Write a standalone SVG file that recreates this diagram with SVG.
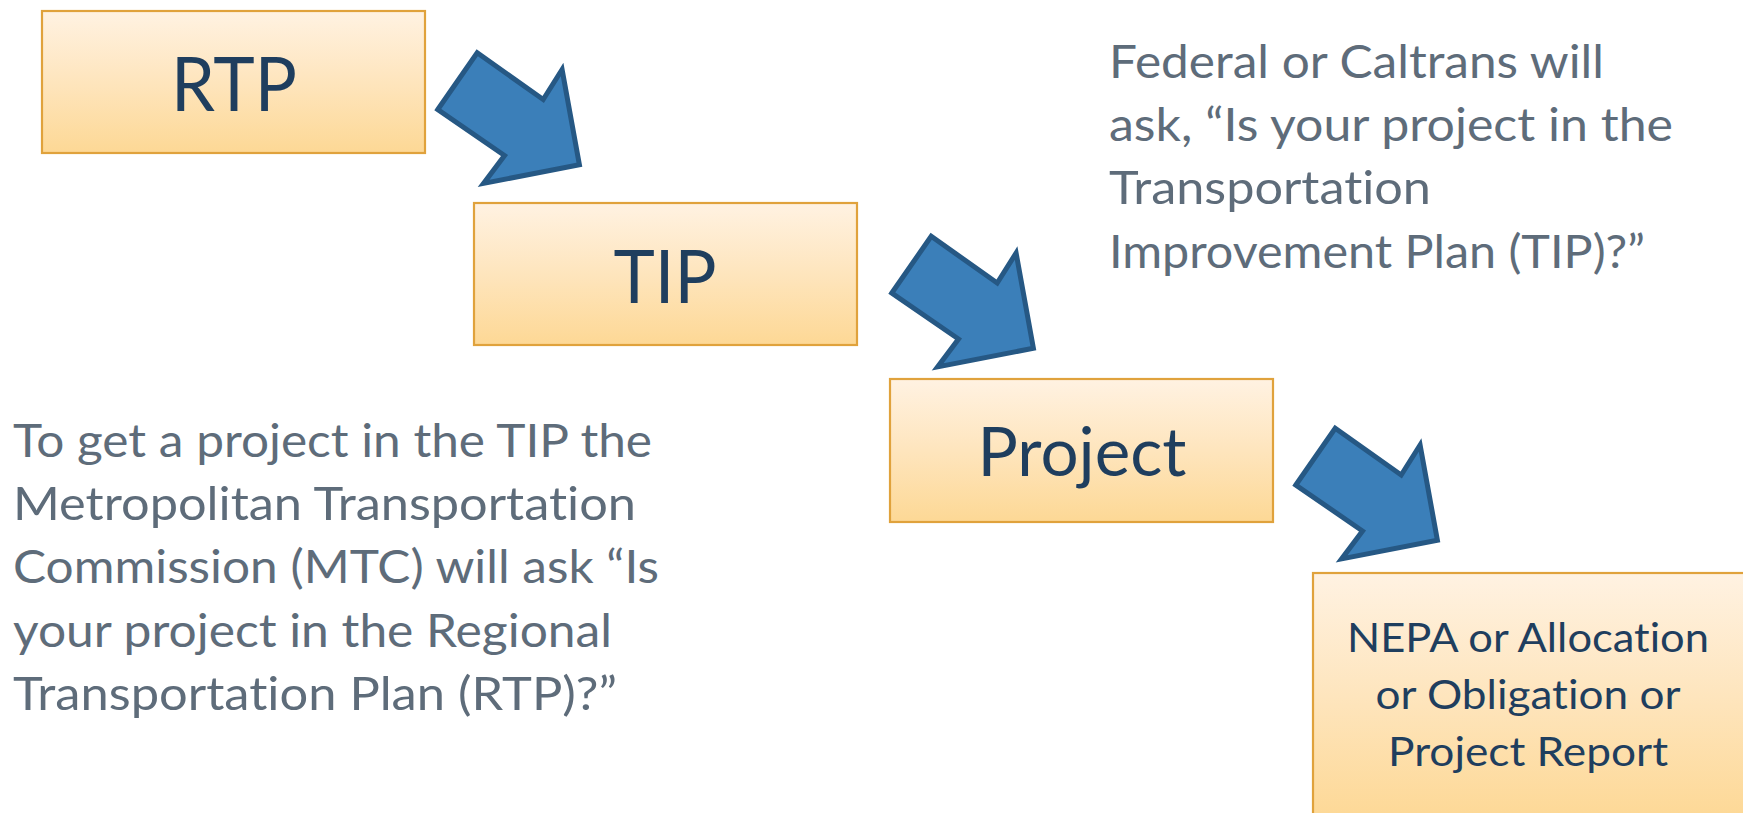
<svg xmlns="http://www.w3.org/2000/svg" xmlns:xlink="http://www.w3.org/1999/xlink" width="1743" height="813" viewBox="0 0 1743 813">
<style>
text{font-variant-ligatures:none;font-feature-settings:"liga" 0,"clig" 0}
.box{fill:url(#boxGrad);stroke:#e0a23c;stroke-width:2.2}
.lbl{font-family:Lato,"Liberation Sans",sans-serif;fill:#1f3e5e;text-anchor:middle}
.para{font-family:Lato,"Liberation Sans",sans-serif;fill:#5e6c7a;font-size:46px}
.arrow{fill:#3b7fb9;stroke:#265884;stroke-width:5;stroke-linejoin:miter}
</style>
<defs>
<linearGradient id="boxGrad" x1="0" y1="0" x2="0" y2="1">
<stop offset="0" stop-color="#fff2e2"/>
<stop offset="0.5" stop-color="#fee5bd"/>
<stop offset="1" stop-color="#fdd895"/>
</linearGradient>
<polygon id="arrowShape" points="437.8,109.5 477.2,52.8 543.2,99.5 562.1,69.5 579.4,164.7 483.6,183.4 504.5,155.5"/>
</defs>
<rect width="1743" height="813" fill="#ffffff"/>
<g id="connectors">
<use xlink:href="#arrowShape" href="#arrowShape" class="arrow"/>
<use xlink:href="#arrowShape" href="#arrowShape" class="arrow" transform="translate(454,183.5)"/>
<use xlink:href="#arrowShape" href="#arrowShape" class="arrow" transform="translate(858,375.5)"/>
</g>
<g id="node-rtp">
<rect class="box" x="42" y="11" width="383" height="142"/>
<text class="lbl" x="234" y="111" font-size="75" textLength="126" lengthAdjust="spacingAndGlyphs">RTP</text>
</g>
<g id="node-tip">
<rect class="box" x="474" y="203" width="383" height="142"/>
<text class="lbl" x="665" y="303" font-size="74" textLength="103" lengthAdjust="spacingAndGlyphs">TIP</text>
</g>
<g id="node-project">
<rect class="box" x="890" y="379" width="383" height="143"/>
<text class="lbl" x="1082" y="476" font-size="67" textLength="209" lengthAdjust="spacingAndGlyphs">Project</text>
</g>
<g id="node-nepa">
<rect class="box" x="1313" y="573" width="440" height="248"/>
<text class="lbl" x="1528" y="652" font-size="40.5" textLength="362" lengthAdjust="spacingAndGlyphs">NEPA or Allocation</text>
<text class="lbl" x="1528" y="709" font-size="40.5" textLength="305" lengthAdjust="spacingAndGlyphs">or Obligation or</text>
<text class="lbl" x="1528" y="766" font-size="40.5" textLength="280" lengthAdjust="spacingAndGlyphs">Project Report</text>
</g>
<g id="note-mtc">
<text class="para" x="13" y="457" textLength="639" lengthAdjust="spacingAndGlyphs">To get a project in the TIP the</text>
<text class="para" x="13" y="520" textLength="623" lengthAdjust="spacingAndGlyphs">Metropolitan Transportation</text>
<text class="para" x="13" y="583" textLength="646" lengthAdjust="spacingAndGlyphs">Commission (MTC) will ask “Is</text>
<text class="para" x="13" y="647" textLength="599" lengthAdjust="spacingAndGlyphs">your project in the Regional</text>
<text class="para" x="13" y="710" textLength="604" lengthAdjust="spacingAndGlyphs">Transportation Plan (RTP)?”</text>
</g>
<g id="note-federal">
<text class="para" x="1109" y="78" textLength="495" lengthAdjust="spacingAndGlyphs">Federal or Caltrans will</text>
<text class="para" x="1109" y="141" textLength="564" lengthAdjust="spacingAndGlyphs">ask, “Is your project in the</text>
<text class="para" x="1109" y="204" textLength="322" lengthAdjust="spacingAndGlyphs">Transportation</text>
<text class="para" x="1109" y="268" textLength="536" lengthAdjust="spacingAndGlyphs">Improvement Plan (TIP)?”</text>
</g>
</svg>
